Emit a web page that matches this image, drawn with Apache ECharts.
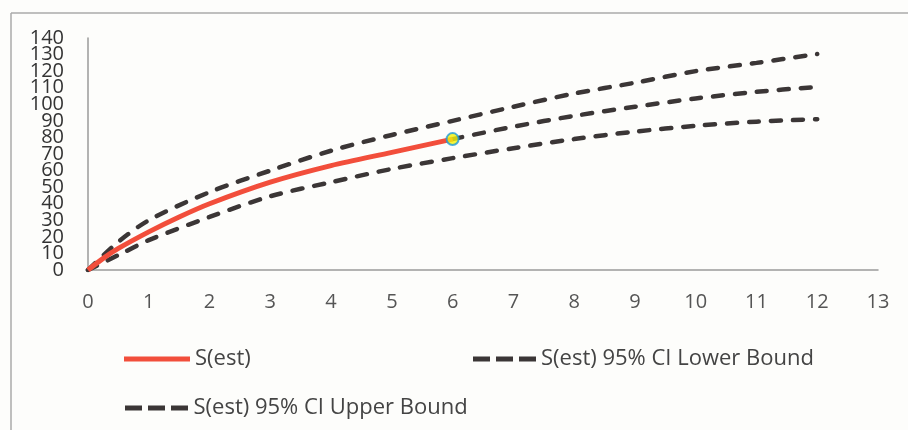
<!DOCTYPE html>
<html>
<head>
<meta charset="utf-8">
<script src="https://cdn.jsdelivr.net/npm/echarts@6/dist/echarts.min.js"></script>
<style>
  html, body { margin: 0; padding: 0; background: #fdfdfb; }
  #chart { width: 908px; height: 430px; }
</style>
</head>
<body>
<div id="chart"></div>
<script>
// values, [t, S]
var estData = [[0, 0], [0.25, 7], [0.5, 13], [1, 23], [1.5, 32], [2, 40], [3, 53], [4, 63], [5, 71], [6, 79]];
var estForecast = [[6, 79], [7, 86.5], [8, 93], [9, 98.5], [10, 103.5], [11, 107.5], [12, 110.5]];
var lowerData = [[0, 0], [0.5, 9], [1, 18], [2, 32], [3, 44.5], [4, 53], [5, 61], [6, 67.5], [7, 73.5], [8, 79], [9, 83.5], [10, 87], [11, 89.5], [12, 91]];
var upperData = [[0, 0], [0.5, 17], [1, 30], [2, 47], [3, 60], [4, 72], [5, 81.5], [6, 90], [7, 98.5], [8, 106.5], [9, 113], [10, 120], [11, 125], [12, 130.3]];
var lastPoint = [[6, 79]];

var names = ["S(est)", "S(est) 95% CI Lower Bound", "S(est) 95% CI Upper Bound"];

var yMax = 140;
var yStep = 10;

var redColor = "#f24e3b";
var dashColor = "#3b3636";
var dashStyle = { color: dashColor, width: 4.5, type: [10, 12], cap: "round" };

var solidIcon = "path://M0,0h66v5h-66z";
var dashIcon = "path://M0,0h17v5h-17zM23,0h17v5h-17zM46,0h17v5h-17z";

// plot box: 0 at y=270, 140 at y=38
var plotTop = 38, plotBottom = 160;
var unitPx = (430 - plotBottom - plotTop) / yMax;

function legendAt(name, icon, width, left, top) {
    return {
        data: [{ name: name, icon: icon }],
        left: left,
        top: top,
        itemWidth: width,
        itemHeight: 5,
        itemGap: 0,
        selectedMode: false,
        textStyle: { fontFamily: "Open Sans", fontSize: 22, color: "#444" }
    };
}

var chart = echarts.init(document.getElementById("chart"));
chart.setOption({
    backgroundColor: "#fdfdfb",
    animation: false,
    grid: [
        { left: 88, right: 30, top: plotTop, bottom: plotBottom },
        // label-only grid, padded by one step so the crowded 0/140 labels are not min/max
        { left: 88, right: 30, top: plotTop - yStep * unitPx, bottom: plotBottom - yStep * unitPx }
    ],
    graphic: [
        { type: "line", shape: { x1: 11, y1: 13, x2: 908, y2: 13 }, style: { stroke: "#aaa", lineWidth: 1.5 } },
        { type: "line", shape: { x1: 11, y1: 13, x2: 11, y2: 430 }, style: { stroke: "#aaa", lineWidth: 1.5 } }
    ],
    legend: [
        legendAt(names[0], solidIcon, 66, 119, 343),
        legendAt(names[1], dashIcon, 63, 468, 343),
        legendAt(names[2], dashIcon, 64, 120, 392)
    ],
    xAxis: [
        {
            type: "value",
            min: 0,
            max: 13,
            interval: 1,
            axisLine: { show: true, lineStyle: { color: "#9a9a9a", width: 1.5 } },
            axisTick: { show: false },
            splitLine: { show: false },
            axisLabel: { margin: 22, fontFamily: "Open Sans", fontSize: 20, color: "#555", showMinLabel: true, showMaxLabel: true }
        },
        { type: "value", gridIndex: 1, min: 0, max: 13, show: false }
    ],
    yAxis: [
        {
            type: "value",
            min: 0,
            max: yMax,
            interval: yStep,
            axisLine: { show: true, lineStyle: { color: "#9a9a9a", width: 1.5 } },
            axisTick: { show: false },
            splitLine: { show: false },
            axisLabel: { show: false }
        },
        {
            type: "value",
            gridIndex: 1,
            min: -yStep,
            max: yMax + yStep,
            interval: yStep,
            axisLine: { show: false },
            axisTick: { show: false },
            splitLine: { show: false },
            axisLabel: {
                margin: 24, fontFamily: "Open Sans", fontSize: 20, color: "#333",
                showMinLabel: false, showMaxLabel: false,
                formatter: function (v) { return (v < 0 || v > yMax) ? "" : String(v); }
            }
        }
    ],
    series: [
        {
            name: names[1],
            type: "line",
            data: lowerData,
            smooth: 0.3,
            symbol: "none",
            lineStyle: dashStyle,
            itemStyle: { color: dashColor },
            z: 2
        },
        {
            name: names[2],
            type: "line",
            data: upperData,
            smooth: 0.3,
            symbol: "none",
            lineStyle: dashStyle,
            itemStyle: { color: dashColor },
            z: 2
        },
        {
            name: "forecast",
            type: "line",
            data: estForecast,
            smooth: 0.3,
            symbol: "none",
            lineStyle: dashStyle,
            itemStyle: { color: dashColor },
            z: 2
        },
        {
            name: names[0],
            type: "line",
            data: estData,
            smooth: 0.3,
            symbol: "none",
            lineStyle: { color: redColor, width: 5 },
            itemStyle: { color: redColor },
            z: 3
        },
        {
            name: "last",
            type: "scatter",
            data: lastPoint,
            symbol: "circle",
            symbolSize: 12,
            itemStyle: { color: "#f2f20a", borderColor: "#1e9ad8", borderWidth: 2 },
            z: 4
        }
    ]
});
</script>
</body>
</html>
